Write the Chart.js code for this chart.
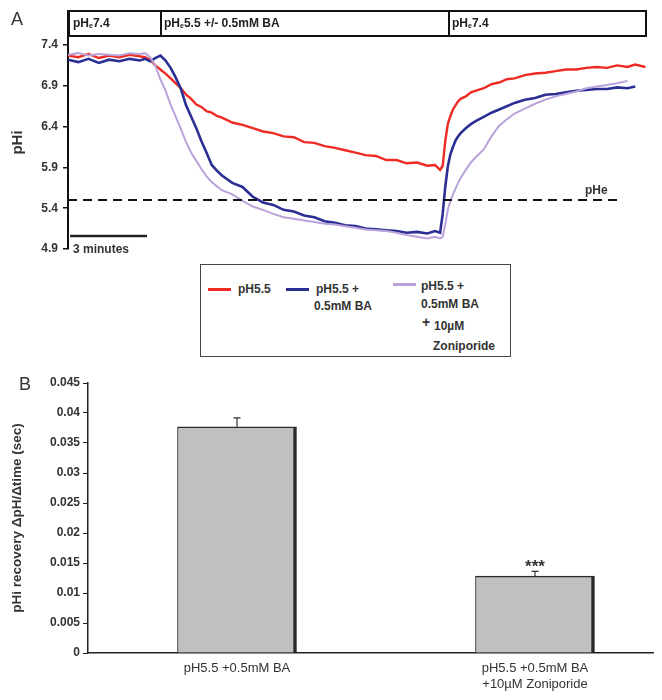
<!DOCTYPE html>
<html>
<head>
<meta charset="utf-8">
<script src="https://cdn.jsdelivr.net/npm/chart.js@4.4.1/dist/chart.umd.min.js"></script>
<style>
  body { margin: 0; background: #fff; font-family: "Liberation Sans", Arial, sans-serif; color: #333; }
  #page { position: relative; width: 662px; height: 700px; overflow: hidden; }
  .abs { position: absolute; white-space: nowrap; }
  .panel { font-size: 18px; color: #333; }
  .cond { font-size: 12px; font-weight: bold; color: #222; }
  .cond sub { font-size: 7px; vertical-align: -1px; }
  .small { font-size: 12px; font-weight: bold; color: #333; }
  .sw { position: absolute; height: 3px; width: 23px; }
  canvas { position: absolute; left: 0; }
</style>
</head>
<body>
<div id="page">
  <canvas id="chart-trace" width="662" height="262" style="top:0"></canvas>
  <canvas id="chart-bars" width="662" height="340" style="top:360px"></canvas>

  <!-- Panel A overlays -->
  <div class="abs panel" style="left:11px;top:9px;">A</div>
  <div class="abs" style="left:67px;top:10px;width:580px;height:27px;border:2px solid #111;border-left-width:3px;box-sizing:border-box;"></div>
  <div class="abs" style="left:160px;top:10px;width:2px;height:27px;background:#111;"></div>
  <div class="abs" style="left:448px;top:10px;width:2px;height:27px;background:#111;"></div>
  <div class="abs cond" style="left:73px;top:16px;">pH<sub>e</sub>7.4</div>
  <div class="abs cond" style="left:164px;top:16px;">pH<sub>e</sub>5.5 +/- 0.5mM BA</div>
  <div class="abs cond" style="left:452px;top:16px;">pH<sub>e</sub>7.4</div>
  <div class="abs small" style="left:73px;top:242px;">3 minutes</div>
  <div class="abs small" style="left:585px;top:183px;">pHe</div>

  <!-- Legend -->
  <div class="abs" style="left:200px;top:264px;width:311px;height:93px;border:1px solid #444;box-sizing:border-box;">
    <div class="sw" style="left:7px;top:23px;background:#ee2b24;"></div>
    <div class="abs small" style="left:37px;top:17px;">pH5.5</div>
    <div class="sw" style="left:85px;top:23px;background:#2b2f94;"></div>
    <div class="abs small" style="left:115px;top:17px;">pH5.5 +</div>
    <div class="abs small" style="left:113px;top:34px;">0.5mM BA</div>
    <div class="sw" style="left:192px;top:18px;background:#b9a3da;"></div>
    <div class="abs small" style="left:220px;top:14px;">pH5.5 +</div>
    <div class="abs small" style="left:220px;top:32px;">0.5mM BA</div>
    <div class="abs small" style="left:221px;top:49px;font-size:14px;">+</div>
    <div class="abs small" style="left:233px;top:54px;">10µM</div>
    <div class="abs small" style="left:232px;top:74px;">Zoniporide</div>
  </div>

  <!-- Panel B overlays -->
  <div class="abs panel" style="left:19px;top:374px;">B</div>
</div>

<script>
// ── Panel A data: intracellular pH traces (time in minutes) ──────────
const times = [
    0, 0.4, 0.8, 1.2, 1.6, 2.0, 2.4, 2.8, 3.0, 3.2,
    3.4, 3.6, 3.8, 4.0, 4.2, 4.4, 4.6, 4.8, 5.0, 5.2,
    5.4, 5.6, 5.8, 6.0, 6.4, 6.8, 7.2, 7.6, 8.0, 8.4,
    8.8, 9.2, 9.6, 10.0, 10.4, 10.8, 11.2, 11.6, 12.0, 12.4,
    12.8, 13.2, 13.6, 14.0, 14.3, 14.5, 14.6, 14.7, 14.8, 14.9,
    15.0, 15.1, 15.2, 15.3, 15.5, 15.7, 15.9, 16.2, 16.5, 16.8,
    17.1, 17.4, 17.8, 18.2, 18.6, 19.0, 19.4, 19.8, 20.2, 20.6,
    21.0, 21.4, 21.8, 22.1, 22.5
];
const phControl = [
    7.27, 7.25, 7.29, 7.24, 7.27, 7.25, 7.28, 7.26, 7.25, 7.22,
    7.15, 7.10, 7.05, 6.99, 6.93, 6.87, 6.79, 6.74, 6.67, 6.64,
    6.59, 6.57, 6.53, 6.51, 6.45, 6.42, 6.38, 6.34, 6.32, 6.28,
    6.27, 6.21, 6.20, 6.16, 6.14, 6.11, 6.08, 6.05, 6.04, 5.99,
    5.99, 5.95, 5.96, 5.92, 5.93, 5.87, 5.92, 6.22, 6.43, 6.53,
    6.61, 6.66, 6.71, 6.74, 6.77, 6.82, 6.84, 6.87, 6.92, 6.94,
    6.98, 6.99, 7.03, 7.05, 7.06, 7.08, 7.10, 7.10, 7.12, 7.13,
    7.12, 7.15, 7.13, 7.16, 7.13
];
const phBA = [
    7.22, 7.19, 7.23, 7.18, 7.22, 7.20, 7.23, 7.21, 7.23, 7.20,
    7.24, 7.27, 7.21, 7.12, 7.00, 6.86, 6.66, 6.52, 6.38, 6.22,
    6.08, 5.93, 5.86, 5.80, 5.71, 5.66, 5.54, 5.47, 5.44, 5.38,
    5.36, 5.31, 5.29, 5.24, 5.22, 5.19, 5.18, 5.15, 5.14, 5.13,
    5.12, 5.10, 5.11, 5.09, 5.12, 5.10, 5.33, 5.66, 5.91, 6.06,
    6.15, 6.23, 6.28, 6.32, 6.38, 6.43, 6.47, 6.52, 6.57, 6.61,
    6.65, 6.69, 6.73, 6.75, 6.79, 6.80, 6.82, 6.84, 6.85, 6.86,
    6.86, 6.88, 6.87, 6.89, null
];
const phBAZon = [
    7.28, 7.30, 7.27, 7.29, 7.28, 7.27, 7.30, 7.29, 7.30, 7.25,
    7.15, 6.98, 6.84, 6.67, 6.52, 6.37, 6.21, 6.08, 5.98, 5.88,
    5.79, 5.72, 5.67, 5.62, 5.57, 5.49, 5.42, 5.38, 5.33, 5.29,
    5.27, 5.25, 5.23, 5.21, 5.20, 5.18, 5.16, 5.14, 5.13, 5.12,
    5.10, 5.07, 5.05, 5.03, 5.05, 5.03, 5.05, 5.20, 5.38, 5.49,
    5.57, 5.64, 5.71, 5.77, 5.87, 5.96, 6.03, 6.12, 6.28, 6.41,
    6.49, 6.56, 6.62, 6.68, 6.73, 6.77, 6.80, 6.83, 6.87, 6.89,
    6.91, 6.93, 6.96, null, null
];
const phTicks = [4.9, 5.4, 5.9, 6.4, 6.9, 7.4];
const pHe = 5.5;             // extracellular pH reference line
const pHeEnd = 21.4;         // minutes, where the dashed line stops
const scaleBarMin = 3;       // "3 minutes" scale bar

// ── Panel B data: recovery rate ─────────────────────────────────────
const barLabels = [['pH5.5 +0.5mM BA'], ['pH5.5 +0.5mM BA', '+10µM Zoniporide']];
const barValues = [0.0377, 0.0128];
const barErrors = [0.0015, 0.0008];
const barStars  = ['', '***'];

const FONT = '"Liberation Sans", Arial, sans-serif';

// ── Panel A chart ───────────────────────────────────────────────────
const pts = arr => times.map((t, i) => ({ x: t, y: arr[i] }));

const scaleBar = {
    id: 'scaleBar',
    afterDatasetsDraw(chart) {
        const { ctx, scales: { x, y } } = chart;
        const y0 = y.getPixelForValue(5.06);
        ctx.save();
        ctx.strokeStyle = '#222';
        ctx.lineWidth = 2.5;
        ctx.beginPath();
        ctx.moveTo(x.getPixelForValue(0.08), y0);
        ctx.lineTo(x.getPixelForValue(0.08 + scaleBarMin), y0);
        ctx.stroke();
        ctx.restore();
    }
};

new Chart(document.getElementById('chart-trace'), {
    type: 'line',
    data: {
        datasets: [
            { label: 'pHe', data: [{ x: 0, y: pHe }, { x: pHeEnd, y: pHe }],
              borderColor: '#111', borderWidth: 2, borderDash: [9, 6], pointRadius: 0 },
            { label: 'pH5.5 + 0.5mM BA + 10µM Zoniporide', data: pts(phBAZon),
              borderColor: '#b9a3da', borderWidth: 2, pointRadius: 0, tension: 0 },
            { label: 'pH5.5 + 0.5mM BA', data: pts(phBA),
              borderColor: '#2b2f94', borderWidth: 2.6, pointRadius: 0, tension: 0 },
            { label: 'pH5.5', data: pts(phControl),
              borderColor: '#ee2b24', borderWidth: 2.4, pointRadius: 0, tension: 0 }
        ]
    },
    options: {
        responsive: false, animation: false,
        layout: { padding: { left: 0, top: 36, right: 14, bottom: 13 } },
        plugins: { legend: { display: false }, tooltip: { enabled: false } },
        scales: {
            x: { type: 'linear', min: 0, max: 22.6, display: false },
            y: {
                min: 4.9, max: 7.51,
                afterBuildTicks: s => { s.ticks = phTicks.map(v => ({ value: v })); },
                afterFit: s => { s.width = 68; },
                border: { display: true, color: '#111', width: 2 },
                grid: { drawOnChartArea: false, tickLength: 5, color: '#111', lineWidth: 1.5 },
                ticks: { color: '#333', padding: 5, font: { family: FONT, size: 12, weight: 'bold' },
                         callback: v => v.toFixed(1) },
                title: { display: true, text: 'pHi', color: '#333', padding: { top: 9, bottom: 0 },
                         font: { family: FONT, size: 15, weight: 'bold' } }
            }
        }
    },
    plugins: [scaleBar]
});

// ── Panel B chart ───────────────────────────────────────────────────
const errorBars = {
    id: 'errorBars',
    afterDatasetsDraw(chart) {
        const { ctx, scales: { x, y } } = chart;
        ctx.save();
        ctx.strokeStyle = '#333';
        ctx.fillStyle = '#333';
        ctx.lineWidth = 1.2;
        ctx.font = 'bold 17px ' + FONT;
        ctx.textAlign = 'center';
        ctx.textBaseline = 'bottom';
        barValues.forEach((v, i) => {
            const px = x.getPixelForValue(i + 0.5);
            const top = y.getPixelForValue(v);
            const hi = y.getPixelForValue(v + barErrors[i]);
            ctx.beginPath();
            ctx.moveTo(px, top); ctx.lineTo(px, hi);
            ctx.moveTo(px - 3.5, hi); ctx.lineTo(px + 3.5, hi);
            ctx.stroke();
            if (barStars[i]) ctx.fillText(barStars[i], px, hi + 4);
        });
        ctx.restore();
    }
};

new Chart(document.getElementById('chart-bars'), {
    type: 'bar',
    data: {
        datasets: [{
            data: barValues.map((v, i) => ({ x: i + 0.5, y: v })),
            backgroundColor: '#c0c0c0',
            borderColor: '#2a2a2a',
            borderWidth: { left: 1, top: 1.5, right: 3.5, bottom: 0 },
            barThickness: 119
        }]
    },
    options: {
        responsive: false, animation: false,
        layout: { padding: { left: 0, top: 23, right: 9, bottom: 0 } },
        plugins: { legend: { display: false }, tooltip: { enabled: false } },
        scales: {
            x: {
                type: 'linear', min: 0, max: 1.896, offset: false,
                afterBuildTicks: s => { s.ticks = barLabels.map((_, i) => ({ value: i + 0.5 })); },
                afterFit: s => { s.height = 47; },
                border: { display: true, color: '#222', width: 1.5 },
                grid: { display: false, drawTicks: false },
                ticks: { color: '#333', padding: 8, maxRotation: 0, autoSkip: false,
                         font: { family: FONT, size: 13 },
                         callback: v => barLabels[Math.floor(v)] }
            },
            y: {
                min: 0, max: 0.045,
                afterBuildTicks: s => {
                    const t = [];
                    for (let i = 0; i <= 9; i++) t.push({ value: +(i * 0.005).toFixed(3) });
                    s.ticks = t;
                },
                afterFit: s => { s.width = 88; },
                border: { display: true, color: '#222', width: 1.5 },
                grid: { drawOnChartArea: false, tickLength: 5, color: '#222' },
                ticks: { color: '#333', padding: 3, font: { family: FONT, size: 12, weight: 'bold' },
                         callback: v => String(+v.toFixed(3)) },
                title: { display: true, text: 'pHi recovery ΔpH/Δtime (sec)', color: '#333',
                         padding: { top: 9, bottom: 0 },
                         font: { family: FONT, size: 13.5, weight: 'bold' } }
            }
        }
    },
    plugins: [errorBars]
});
</script>
</body>
</html>
